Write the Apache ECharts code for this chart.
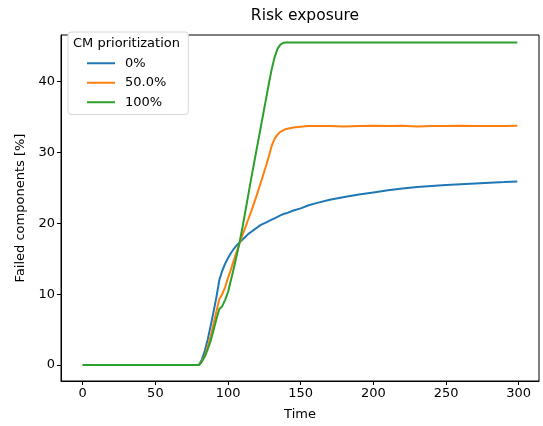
<!DOCTYPE html>
<html>
<head>
<meta charset="utf-8">
<script src="https://cdn.jsdelivr.net/npm/echarts@6/dist/echarts.min.js"></script>
<style>
  html, body { margin: 0; padding: 0; background: #fff; }
  #chart { width: 543px; height: 426px; }
</style>
</head>
<body>
<div id="chart"></div>
<script>
// time samples shared by all three runs
const times = [0, 80, 82, 84, 86, 88, 90, 92, 94, 96, 98, 100, 102, 104, 106, 108, 110, 112, 114, 116,
  118, 120, 122, 124, 126, 128, 130, 132, 134, 136, 138, 140, 145, 150, 155, 160, 170, 180, 190, 200,
  210, 220, 230, 240, 250, 260, 270, 280, 290, 299]

const seriesNames = ['0%', '50.0%', '100%']

const cm0 = [0, 0, 0.8, 2.0, 3.6, 5.5, 7.5, 9.6, 12.0, 13.3, 14.3, 15.1, 15.8, 16.4, 16.9, 17.3, 17.7, 18.1, 18.5, 18.8,
  19.1, 19.4, 19.7, 19.9, 20.1, 20.3, 20.5, 20.7, 20.9, 21.1, 21.3, 21.4, 21.8, 22.1, 22.5, 22.8, 23.3, 23.7, 24.05, 24.35,
  24.65, 24.9, 25.1, 25.25, 25.4, 25.5, 25.6, 25.7, 25.8, 25.9]

const cm50 = [0, 0, 0.6, 1.3, 2.6, 4.0, 5.8, 7.6, 9.3, 10.0, 11.0, 12.3, 13.5, 14.8, 16.0, 17.2, 18.4, 19.5, 20.6, 21.7,
  22.9, 24.1, 25.4, 26.7, 28.0, 29.4, 30.9, 31.9, 32.5, 32.9, 33.1, 33.3, 33.5, 33.6, 33.7, 33.7, 33.7, 33.65, 33.7, 33.75,
  33.7, 33.75, 33.65, 33.7, 33.7, 33.75, 33.7, 33.7, 33.7, 33.75]

const cm100 = [0, 0, 0.5, 1.2, 2.2, 3.4, 4.9, 6.5, 7.9, 8.3, 9.2, 10.3, 12.0, 13.7, 15.5, 17.4, 19.5, 21.8, 24.1, 26.4,
  28.6, 30.8, 33.0, 35.2, 37.4, 39.6, 41.7, 43.4, 44.6, 45.2, 45.45, 45.5, 45.5, 45.5, 45.5, 45.5, 45.5, 45.5, 45.5, 45.5,
  45.5, 45.5, 45.5, 45.5, 45.5, 45.5, 45.5, 45.5, 45.5, 45.5]

const xTicks = [0, 50, 100, 150, 200, 250, 300]
const yTicks = [0, 10, 20, 30, 40]

const colors = ['#1f77b4', '#ff7f0e', '#2ca02c']
const font = 'DejaVu Sans'

const chart = echarts.init(document.getElementById('chart'))

const toPairs = (vals) => times.map((t, i) => [t, vals[i]])

const option = {
  animation: false,
  color: colors,
  title: {
    text: 'Risk exposure',
    left: 300,
    top: 3,
    textAlign: 'center',
    textStyle: { fontFamily: font, fontSize: 15.5, fontWeight: 'normal', color: '#000' }
  },
  legend: {
    orient: 'vertical',
    left: 68,
    top: 32,
    padding: [24, 22, 5, 19],
    itemWidth: 28,
    itemHeight: 2,
    itemGap: 5,
    icon: 'rect',
    borderColor: '#d6d6d6',
    borderWidth: 1,
    borderRadius: 3,
    backgroundColor: '#fff',
    data: seriesNames,
    textStyle: { fontFamily: font, fontSize: 13, color: '#000', padding: [0, 0, 0, 5], lineHeight: 14.5 }
  },
  graphic: [{
    type: 'text',
    left: 73,
    top: 37,
    z: 100,
    style: { text: 'CM prioritization', fontFamily: font, fontSize: 13, fill: '#000' }
  }],
  grid: {
    left: 61,
    right: 4,
    top: 35,
    bottom: 44,
    show: true,
    borderColor: '#000',
    borderWidth: 1,
    backgroundColor: 'transparent'
  },
  xAxis: {
    type: 'value',
    min: -14.95,
    max: 313.95,
    name: 'Time',
    nameLocation: 'middle',
    nameGap: 27,
    nameTextStyle: { fontFamily: font, fontSize: 13, color: '#000' },
    axisLine: { show: true, onZero: false, lineStyle: { color: '#000', width: 1 } },
    axisTick: { show: true, length: 4, lineStyle: { color: '#000' }, customValues: xTicks },
    axisLabel: { fontFamily: font, fontSize: 13, color: '#000', margin: 6, customValues: xTicks },
    splitLine: { show: false }
  },
  yAxis: {
    type: 'value',
    min: -2.25,
    max: 46.55,
    name: 'Failed components [%]',
    nameLocation: 'middle',
    nameGap: 30,
    nameTextStyle: { fontFamily: font, fontSize: 13, color: '#000' },
    axisLine: { show: true, onZero: false, lineStyle: { color: '#000', width: 1 } },
    axisTick: { show: true, length: 4, lineStyle: { color: '#000' }, customValues: yTicks },
    axisLabel: { fontFamily: font, fontSize: 13, color: '#000', margin: 6, customValues: yTicks },
    splitLine: { show: false }
  },
  series: [
    { name: seriesNames[0], type: 'line', data: toPairs(cm0), showSymbol: false, lineStyle: { width: 2 }, z: 3 },
    { name: seriesNames[1], type: 'line', data: toPairs(cm50), showSymbol: false, lineStyle: { width: 2 }, z: 4 },
    { name: seriesNames[2], type: 'line', data: toPairs(cm100), showSymbol: false, lineStyle: { width: 2 }, z: 5 }
  ]
}

chart.setOption(option)
</script>
</body>
</html>
